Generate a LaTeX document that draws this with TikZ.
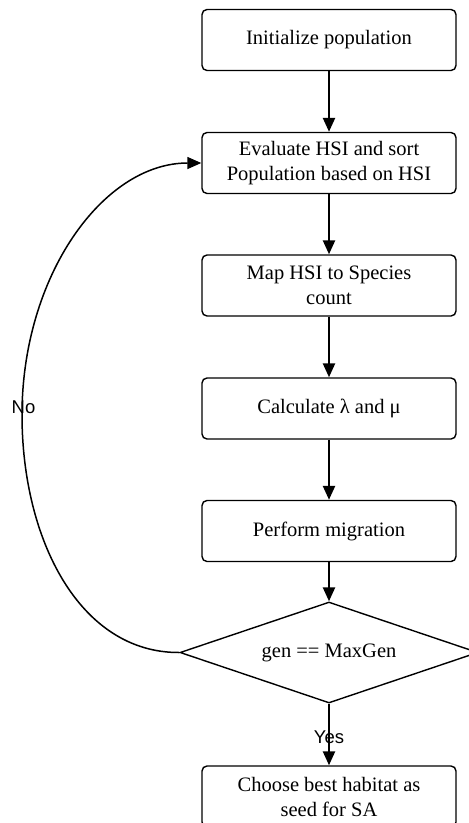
\documentclass[tikz,border=0pt]{standalone}
\usepackage{fontspec}
\setmainfont{Liberation Serif}
\newfontfamily\labelfont{Liberation Sans}
\usetikzlibrary{arrows.meta,shapes.geometric}
\begin{document}
\begin{tikzpicture}[x=1pt,y=-1pt,
  stepbox/.style={draw, line width=1.4pt, rounded corners=5pt,
    minimum width=254pt, minimum height=61pt, inner sep=0pt,
    align=center, font=\fontsize{20.5}{25}\selectfont},
  decision/.style={draw, diamond, line width=1.4pt, aspect=2.95,
    minimum width=298pt, minimum height=101pt, inner sep=0pt,
    font=\fontsize{20.5}{25}\selectfont},
  flow/.style={line width=2.4pt, -{Triangle[length=14pt,width=12pt]}},
  back/.style={line width=1.5pt, -{Triangle[length=14pt,width=12pt]}},
  branch/.style={font=\labelfont\fontsize{18.5}{22}\selectfont, inner sep=0pt}
]
\useasboundingbox (0,0) rectangle (469,823);

% process steps
\node[stepbox] (init) at (329,40)    {Initialize population};
\node[stepbox] (eval) at (329,163)   {Evaluate HSI and sort\\Population based on HSI};
\node[stepbox] (map)  at (329,285.5) {Map HSI to Species\\count};
\node[stepbox] (rate) at (329,408.5) {Calculate λ and μ};
\node[stepbox] (migr) at (329,531)   {Perform migration};
\node[decision] (test) at (329,652.5) {gen == MaxGen};
\node[stepbox] (best) at (329,796.5) {Choose best habitat as\\seed for SA};

% main flow
\draw[flow] (init) -- (eval);
\draw[flow] (eval) -- (map);
\draw[flow] (map)  -- (rate);
\draw[flow] (rate) -- (migr);
\draw[flow] (migr) -- (test);
\draw[flow] (test) -- (best);
\node[branch] (yes) at (329,737) {Yes};

% loop back when the stopping condition fails
\coordinate (turn) at (22,415);
\draw[back] (test.west) .. controls (80,653) and (22,540) .. (turn)
  .. controls (22,276) and (103,163) .. (eval.west);
\node[branch] (no) at (23.5,407) {No};
\end{tikzpicture}
\end{document}
